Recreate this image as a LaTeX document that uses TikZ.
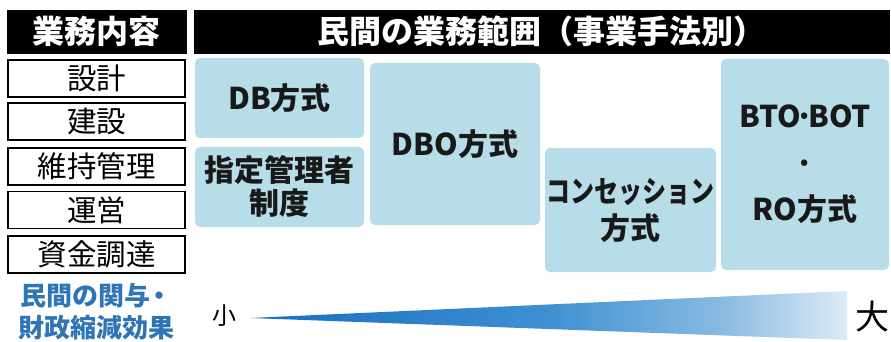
\documentclass[tikz,border=0pt]{standalone}
\usepackage{fontspec}
\setmainfont{Noto Sans CJK JP}
\definecolor{boxblue}{RGB}{183,221,232}
\definecolor{lblblue}{RGB}{46,117,182}
\definecolor{tA}{RGB}{24,110,192}
\definecolor{tB}{RGB}{62,144,210}
\definecolor{tC}{RGB}{140,188,226}
\definecolor{tD}{RGB}{222,235,246}
\pgfdeclarehorizontalshading{wedge}{100bp}{color(0bp)=(tA); color(25bp)=(tA); color(50bp)=(tB); color(65bp)=(tC); color(75bp)=(tD); color(100bp)=(tD)}
\tikzset{
  hdr/.style={draw=black, fill=black, text=white, font=\fontsize{32}{34}\selectfont\bfseries, inner sep=0pt},
  task/.style={draw=black, line width=1.2pt, fill=white, minimum width=177pt, minimum height=37pt, inner sep=0pt, font=\fontsize{29.5}{30}\selectfont},
  method/.style={fill=boxblue, rounded corners=5pt, inner sep=0pt, align=center, text=black!90, font=\fontsize{30}{34}\selectfont\bfseries},
  lbl/.style={inner sep=0pt, align=center, text=lblblue, font=\fontsize{26}{32}\selectfont\bfseries}
}
\begin{document}
\begin{tikzpicture}[x=1pt,y=-1pt]
\useasboundingbox (0,0) rectangle (891,342);
% headers
\node[hdr, minimum width=179pt, minimum height=43pt] (hL) at (96.5,31.5) {業務内容};
\node[hdr, minimum width=695pt, minimum height=43pt] (hR) at (541.5,31.5) {民間の業務範囲（事業手法別）};
% task boxes
\node[task] (t1) at (96.5,78.5) {設計};
\node[task] (t2) at (96.5,121.5) {建設};
\node[task] (t3) at (96.5,166.5) {維持管理};
\node[task] (t4) at (96.5,210) {運営};
\node[task] (t5) at (96.5,254.5) {資金調達};
% method boxes
\node[method, minimum width=169pt, minimum height=80pt] (db) at (279.5,98) {DB方式};
\node[method, minimum width=169pt, minimum height=80pt, font=\fontsize{30}{33}\selectfont\bfseries] (sk) at (279.5,187) {指定管理者\\制度};
\node[method, minimum width=170pt, minimum height=162pt] (dbo) at (455,144) {DBO方式};
\node[method, minimum width=171pt, minimum height=124pt, font=\fontsize{30}{37}\selectfont\bfseries] (con) at (630.5,210) {\scalebox{0.8}[1]{コンセッション}\\方式};
\node[method, minimum width=168pt, minimum height=211pt, font=\fontsize{30}{46.5}\selectfont\bfseries] (bto) at (805,164.5) {BTO\hspace{-5.5pt}·\hspace{-5.5pt}BOT\\·\\RO方式};
% label
\node[lbl] (lb) at (96.5,312) {民間の関与\hspace{-4pt}・\\財政縮減効果};
% wedge
\coordinate (tip) at (250,318);
\coordinate (tr) at (847,291);
\coordinate (br) at (847,340);
\shade[shading=wedge] (tip) -- (tr) -- (br) -- cycle;
\node[inner sep=0pt, font=\fontsize{24}{26}\selectfont] (small) at (224.5,316) {小};
\node[inner sep=0pt, font=\fontsize{34}{36}\selectfont] (big) at (872,317) {大};
\end{tikzpicture}
\end{document}
